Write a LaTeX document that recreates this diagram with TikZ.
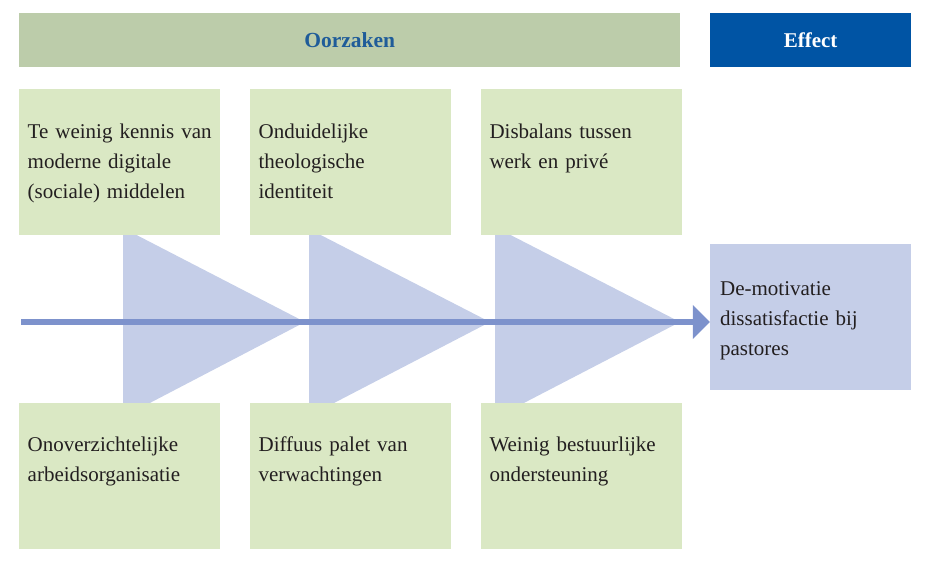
\documentclass[tikz,border=0pt]{standalone}
\usepackage{fontspec}
\setmainfont{Liberation Serif}
\usepackage{tikz}
\usepackage{xcolor}
\usetikzlibrary{positioning,arrows.meta}
\definecolor{headgreen}{RGB}{188,204,170}
\definecolor{boxgreen}{RGB}{218,232,196}
\definecolor{trililac}{RGB}{197,206,232}
\definecolor{spineblue}{RGB}{125,146,204}
\definecolor{effectblue}{RGB}{0,84,164}
\definecolor{headtext}{RGB}{31,92,153}
\definecolor{bodytext}{RGB}{35,31,32}

\begin{document}
\begin{tikzpicture}
[
x=1pt, y=-1pt,
head-a/.style={fill=headgreen, minimum width=661pt, minimum height=54pt, inner sep=0pt, text=headtext, font=\fontsize{21.5}{24}\selectfont\bfseries},
head-b/.style={fill=effectblue, minimum width=201pt, minimum height=54pt, inner sep=0pt, text=white, font=\fontsize{21}{24}\selectfont\bfseries},
box-a/.style={fill=boxgreen, minimum width=201pt, minimum height=146pt, inner sep=0pt},
box-b/.style={fill=trililac, minimum width=201pt, minimum height=146pt, inner sep=0pt},
text-a/.style={text=bodytext, align=left, text width=194pt, inner sep=0pt, font=\fontsize{21}{30}\selectfont, execute at begin node=\strut},
tri-a/.style={fill=trililac},
spine/.style={draw=spineblue, line width=6pt, -{Triangle[length=17pt,width=33pt]}}
]
\useasboundingbox (0,0) rectangle (940,560);
% triangles behind the boxes
\fill[tri-a] (123,228) -- (123,417) -- (305,322) -- cycle;
\fill[tri-a] (309,229) -- (309,416) -- (490,322) -- cycle;
\fill[tri-a] (495,227) -- (495,418) -- (680,322) -- cycle;

\node (head)        [head-a, anchor=north west] at (19,13)   {Oorzaken};
\node (effect-head) [head-b, right =  29.50pt of head      ] {Effect};

\node (cause-1)     [box-a, below right = 21.00pt and 0.00pt of head.south west] {};
\node (cause-2)     [box-a, right =  29.50pt of cause-1    ] {};
\node (cause-3)     [box-a, right =  29.50pt of cause-2    ] {};
\node (cause-4)     [box-a, below = 168.00pt of cause-1    ] {};
\node (cause-5)     [box-a, right =  29.50pt of cause-4    ] {};
\node (cause-6)     [box-a, right =  29.50pt of cause-5    ] {};
\node (effect)      [box-b, below = 176.00pt of effect-head] {};

\node (cause-1-txt) [text-a, below right = 29.00pt and 8.50pt of cause-1.north west] {Te weinig kennis van\\moderne digitale\\(sociale) middelen};
\node (cause-2-txt) [text-a, below right = 29.00pt and 8.50pt of cause-2.north west] {Onduidelijke\\theologische\\identiteit};
\node (cause-3-txt) [text-a, below right = 29.00pt and 8.50pt of cause-3.north west] {Disbalans tussen\\werk en privé};
\node (cause-4-txt) [text-a, below right = 27.00pt and 8.50pt of cause-4.north west] {Onoverzichtelijke\\arbeidsorganisatie};
\node (cause-5-txt) [text-a, below right = 27.00pt and 8.50pt of cause-5.north west] {Diffuus palet van\\verwachtingen};
\node (cause-6-txt) [text-a, below right = 27.00pt and 8.50pt of cause-6.north west] {Weinig bestuurlijke\\ondersteuning};
\node (effect-txt)  [text-a, below right = 31.00pt and 10.00pt of effect.north west] {De-motivatie\\dissatisfactie bij\\pastores};

\coordinate (spine-start) at (21,322);
\draw[spine] (spine-start) -- (spine-start -| effect.west);
\end{tikzpicture}
\end{document}
